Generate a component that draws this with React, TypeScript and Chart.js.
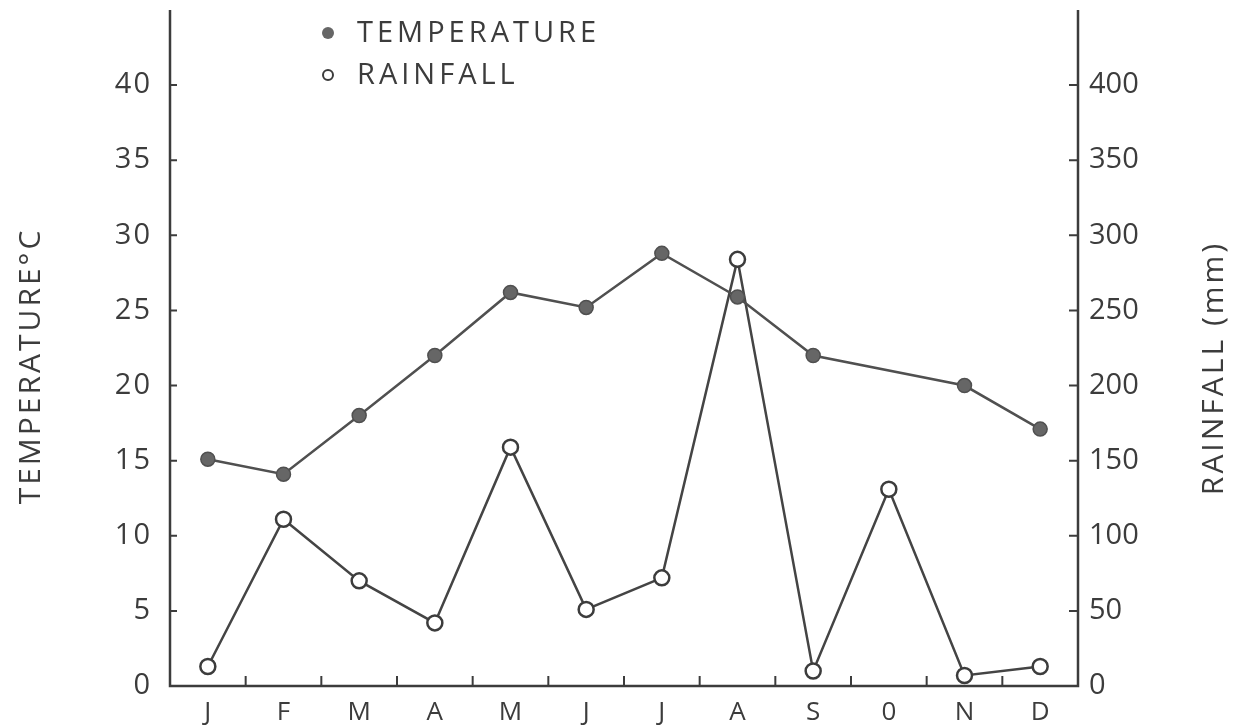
import { useEffect, useRef } from 'react';
import { Chart, registerables } from 'chart.js';

Chart.register(...registerables);

const months = ['J', 'F', 'M', 'A', 'M', 'J', 'J', 'A', 'S', 'O', 'N', 'D'];
const xLabels = ['J', 'F', 'M', 'A', 'M', 'J', 'J', 'A', 'S', '0', 'N', 'D'];
const temperature = [15.1, 14.1, 18, 22, 26.2, 25.2, 28.8, 25.9, 22, null, 20, 17.1];
const rainfall = [13, 111, 70, 42, 159, 51, 72, 284, 10, 131, 7, 13];
const tempTicks = [0, 5, 10, 15, 20, 25, 30, 35, 40];
const rainTicks = [0, 50, 100, 150, 200, 250, 300, 350, 400];
const tempMax = 45;
const rainMax = 450;

const INK = '#3c3c3c';
const FONT = '"Open Sans", "DejaVu Sans", sans-serif';

const axesPlugin = {
  id: 'customAxes',
  beforeDatasetsDraw(chart: any) {
    const ctx = chart.ctx;
    const { left, right, top, bottom } = chart.chartArea;
    const x = chart.scales.x;
    const yT = chart.scales.yT;
    const yR = chart.scales.yR;
    ctx.save();
    ctx.strokeStyle = INK;
    ctx.lineWidth = 2.5;
    ctx.beginPath();
    ctx.moveTo(left, top);
    ctx.lineTo(left, bottom);
    ctx.lineTo(right, bottom);
    ctx.lineTo(right, top);
    ctx.stroke();
    ctx.lineWidth = 2;
    ctx.beginPath();
    tempTicks.forEach((v) => {
      if (v === 0) return;
      const p = yT.getPixelForValue(v);
      ctx.moveTo(left, p);
      ctx.lineTo(left + 7, p);
    });
    rainTicks.forEach((v) => {
      if (v === 0) return;
      const p = yR.getPixelForValue(v);
      ctx.moveTo(right, p);
      ctx.lineTo(right - 9, p);
    });
    for (let i = 1; i < months.length; i++) {
      const p = x.getPixelForValue(i - 0.5);
      ctx.moveTo(p, bottom);
      ctx.lineTo(p, bottom - 10);
    }
    ctx.stroke();

    // tick labels
    ctx.fillStyle = INK;
    ctx.textBaseline = 'middle';
    ctx.font = `400 29px ${FONT}`;
    ctx.textAlign = 'right';
    (ctx as any).letterSpacing = '2px';
    tempTicks.forEach((v) => {
      ctx.fillText(String(v), left - 18, yT.getPixelForValue(v));
    });
    ctx.textAlign = 'left';
    (ctx as any).letterSpacing = '0px';
    rainTicks.forEach((v) => {
      ctx.fillText(String(v), right + 11, yR.getPixelForValue(v));
    });
    ctx.textAlign = 'center';
    ctx.font = `400 26px ${FONT}`;
    xLabels.forEach((l, i) => {
      ctx.fillText(l, x.getPixelForValue(i), bottom + 27);
    });

    // axis titles
    ctx.font = `400 30px ${FONT}`;
    (ctx as any).letterSpacing = '3px';
    ctx.save();
    ctx.translate(31, 366);
    ctx.rotate(-Math.PI / 2);
    ctx.fillText('TEMPERATURE°C', 0, 0);
    ctx.restore();
    ctx.save();
    ctx.translate(1214, 368);
    ctx.rotate(-Math.PI / 2);
    ctx.fillText('RAINFALL (mm)', 0, 0);
    ctx.restore();

    // legend
    ctx.textAlign = 'left';
    ctx.font = `400 29px ${FONT}`;
    (ctx as any).letterSpacing = '4px';
    ctx.fillText('TEMPERATURE', 357, 34);
    ctx.fillText('RAINFALL', 357, 76);
    ctx.fillStyle = '#666';
    ctx.beginPath();
    ctx.arc(328, 33, 6, 0, Math.PI * 2);
    ctx.fill();
    ctx.strokeStyle = INK;
    ctx.lineWidth = 2;
    ctx.beginPath();
    ctx.arc(328, 75, 5, 0, Math.PI * 2);
    ctx.stroke();
    ctx.restore();
  },
};

export default function App() {
  const ref = useRef<HTMLCanvasElement>(null);
  useEffect(() => {
    if (!ref.current) return;
    const chart = new Chart(ref.current, {
      type: 'line',
      data: {
        labels: months,
        datasets: [
          {
            label: 'TEMPERATURE',
            data: temperature,
            yAxisID: 'yT',
            borderColor: '#505050',
            borderWidth: 2.5,
            pointRadius: 7,
            pointBackgroundColor: '#666',
            pointBorderColor: '#505050',
            pointBorderWidth: 1.5,
            spanGaps: true,
            tension: 0,
          },
          {
            label: 'RAINFALL',
            data: rainfall,
            yAxisID: 'yR',
            borderColor: '#444',
            borderWidth: 2.5,
            pointRadius: 7.5,
            pointBackgroundColor: '#fff',
            pointBorderColor: '#3c3c3c',
            pointBorderWidth: 2.5,
            tension: 0,
          },
        ],
      },
      options: {
        animation: false,
        responsive: false,
        maintainAspectRatio: false,
        layout: { padding: { left: 170, right: 160, top: 10, bottom: 42 } },
        plugins: { legend: { display: false }, tooltip: { enabled: false } },
        scales: {
          x: { type: 'category', offset: true, display: false },
          yT: { type: 'linear', position: 'left', min: 0, max: tempMax, display: false },
          yR: { type: 'linear', position: 'right', min: 0, max: rainMax, display: false },
        },
      },
      plugins: [axesPlugin],
    });
    return () => chart.destroy();
  }, []);
  return (
    <div style={{ position: 'fixed', left: 0, top: 0, width: 1238, height: 728, background: '#fff' }}>
      <canvas ref={ref} width={1238} height={728} style={{ display: 'block' }} />
    </div>
  );
}
